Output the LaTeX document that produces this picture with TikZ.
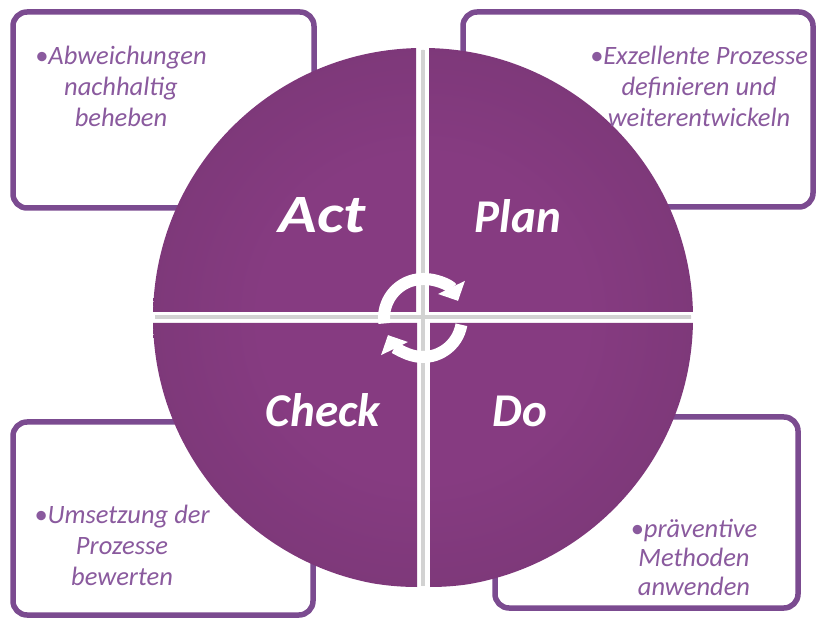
\documentclass[tikz,border=0pt]{standalone}
\usepackage{fontspec}
\setmainfont{Carlito}
\usetikzlibrary{arrows.meta}
\definecolor{qin}{HTML}{863B81}
\definecolor{qout}{HTML}{6A3268}
\definecolor{gapgray}{HTML}{D2D2D2}
\definecolor{boxline}{HTML}{7B4B90}
\definecolor{txt}{HTML}{8A5A9E}
\pgfdeclareradialshading{quadshade}{\pgfpoint{0bp}{0bp}}{color(0bp)=(qin); color(15bp)=(qin); color(50bp)=(qout); color(60bp)=(qout)}
\begin{document}
\begin{tikzpicture}[x=1pt,y=1pt,
  infobox/.style={draw=boxline, line width=5.5pt, rounded corners=14pt, fill=white},
  info/.style={text=txt, font=\fontsize{26.5}{31}\selectfont\itshape, align=center, inner sep=0pt},
  phase/.style={text=white, font=\fontsize{47}{52}\selectfont\bfseries\itshape, inner sep=0pt, anchor=base},
  cyc/.style={draw=white, line width=12pt, -{Triangle[length=15pt,width=29pt]}}]
\useasboundingbox (0,0) rectangle (818,618);
% boxes
\draw[infobox] (13,410) rectangle (314,606);
\draw[infobox] (463,411) rectangle (813,606);
\draw[infobox] (13,3) rectangle (313,196);
\draw[infobox] (495,10) rectangle (798,201);
\coordinate (hub) at (423,300);
% gap lines
\begin{scope}
\clip (hub) circle (268);
\fill[white] (hub) circle (268);
\draw[gapgray, line width=4pt] (423,20) -- (423,580);
\draw[gapgray, line width=4pt] (140,300.5) -- (700,300.5);
\end{scope}
% quadrants
\begin{scope}
\clip (416,306) -- ++(-264,0) arc[start angle=180,end angle=90,radius=264] -- cycle
      (429,306) -- ++(0,264) arc[start angle=90,end angle=0,radius=264] -- cycle
      (417,295) -- ++(-264,0) arc[start angle=180,end angle=270,radius=264] -- cycle
      (430,295) -- ++(264,0) arc[start angle=0,end angle=-90,radius=264] -- cycle;
\shade[shading=quadshade] (hub) circle (270);
\end{scope}
% cycle arrows
\draw[cyc] ([shift={(188:39)}]hub) arc[start angle=188,end angle=26,radius=39];
\draw[cyc] ([shift={(-10:39)}]hub) arc[start angle=-10,end angle=-154,radius=39];
% phase labels
\node[phase, font=\fontsize{54}{58}\selectfont\bfseries\itshape] (act) at (322,385) {\scalebox{1.18}[1]{Act}};
\node[phase] (plan) at (518,385) {Plan};
\node[phase] (check) at (323,191) {Check};
\node[phase] (do) at (520,191) {Do};
% info texts
\node[info] (actinfo) at (121,532) {•Abweichungen\\nachhaltig\\beheben};
\node[info] (planinfo) at (699,532) {•Exzellente Prozesse\\definieren und\\weiterentwickeln};
\node[info] (checkinfo) at (122,73) {•Umsetzung der\\Prozesse\\bewerten};
\node[info, font=\fontsize{26.5}{29}\selectfont\itshape] (doinfo) at (694,61) {•präventive\\Methoden\\anwenden};
\end{tikzpicture}
\end{document}
